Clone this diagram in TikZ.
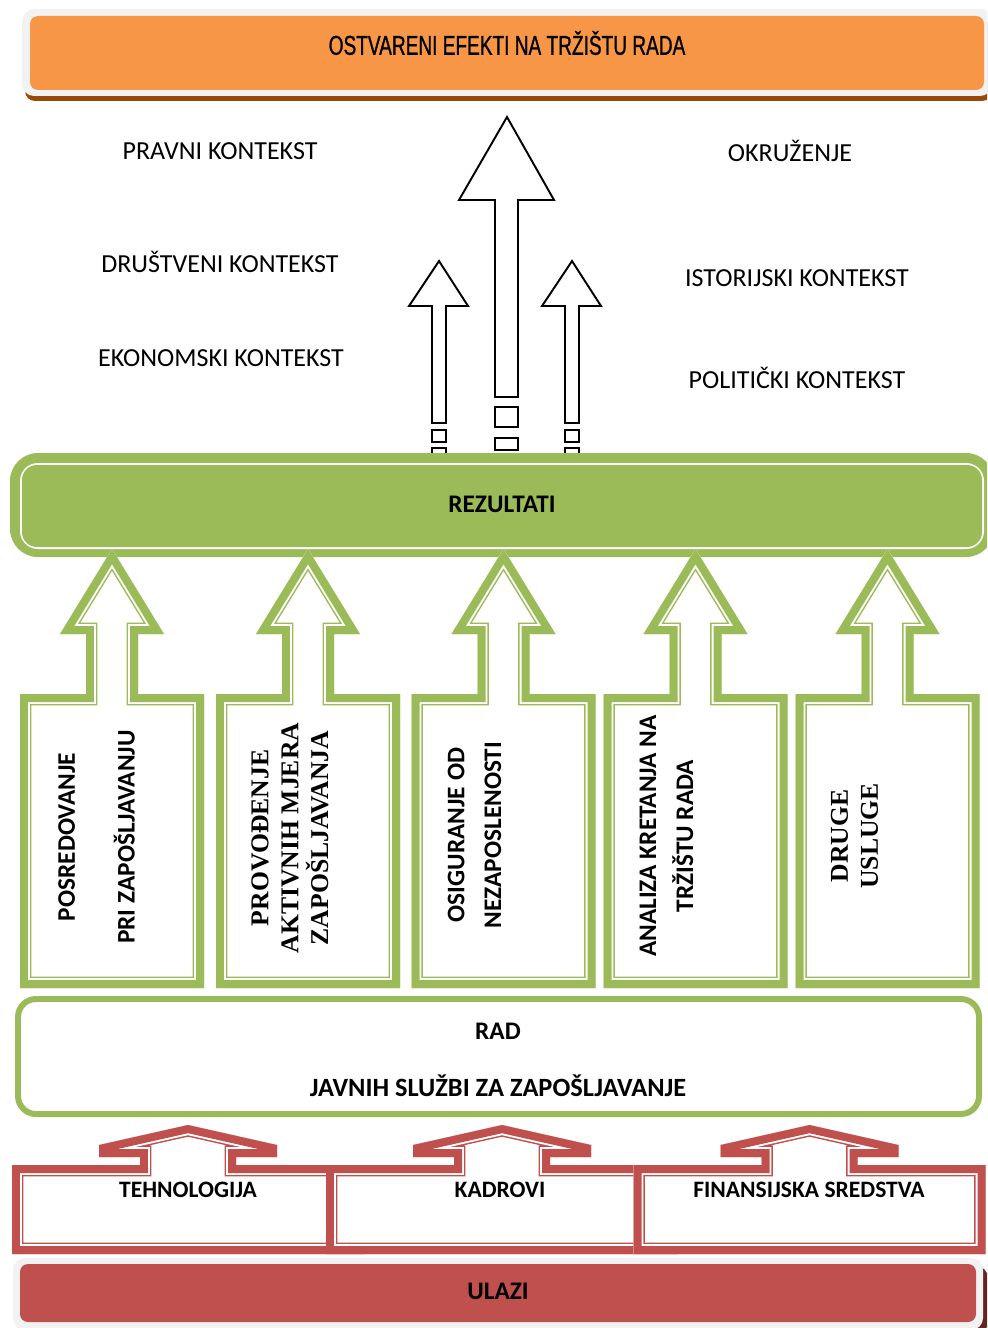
\documentclass[tikz,border=0pt]{standalone}
\usepackage{fontspec}
\setmainfont{Carlito}
\newfontfamily\timesfont{Liberation Serif}
\newfontfamily\narrowfont[FakeStretch=0.7, FakeBold=0.8]{Liberation Sans}
\usepackage{tikz}

\definecolor{orangeband}{HTML}{F79646}
\definecolor{orangeshadow}{HTML}{984807}
\definecolor{greenband}{HTML}{9BBB59}
\definecolor{redband}{HTML}{C0504D}
\definecolor{redshadow}{HTML}{632523}
\definecolor{greyrim}{HTML}{F2F2F2}

\tikzset{
  context/.style={font=\fontsize{14.8}{17}\selectfont},
  boldlabel/.style={font=\fontsize{14.4}{17}\selectfont\bfseries},
  seriflabel/.style={font=\fontsize{14.6}{17}\selectfont\timesfont\bfseries},
  blackarrow/.style={draw=black, fill=white, line width=1.1pt, line join=miter}
}

\begin{document}
\begin{tikzpicture}[x=0.02cm, y=-0.02cm]
				\path[use as bounding box, clip] (0,0) rectangle (987,1328);
				% top banner
				\fill[orangeshadow, rounded corners=0.2cm] (25,20) rectangle (992,101);
				\fill[greyrim, rounded corners=0.24cm] (22,9) rectangle (992,96);
				\fill[orangeband, rounded corners=0.16cm] (30,16) rectangle (984,90);
				\node[font=\fontsize{15.5}{18}\selectfont\narrowfont] (effects) at (507,43) {OSTVARENI EFEKTI NA TRŽIŠTU RADA};

				% context labels
				\node[context] (legal) at (220,151) {PRAVNI KONTEKST};
				\node[context] (social) at (220,262) {DRUŠTVENI KONTEKST};
				\node[context] (economic) at (221,358) {EKONOMSKI KONTEKST};
				\node[context] (environment) at (790,151) {OKRUŽENJE};
				\node[context] (historic) at (797,278) {ISTORIJSKI KONTEKST};
				\node[context] (political) at (797,378) {POLITIČKI KONTEKST};

				% outline arrows going up
				\draw[blackarrow] (507,117) -- (554,200) -- (518,200) -- (518,397) -- (495,397) -- (495,200) -- (459,200) -- cycle;
				\draw[blackarrow] (495,407) rectangle (518,427);
				\draw[blackarrow] (495,438) rectangle (518,450);
				\foreach \c in {439,572}{
					\draw[blackarrow] (\c,261) -- ({\c+29},306) -- ({\c+7},306) -- ({\c+7},423) -- ({\c-7},423) -- ({\c-7},306) -- ({\c-30},306) -- cycle;
					\draw[blackarrow] ({\c-7},430) rectangle ({\c+7},442);
					\draw[blackarrow] ({\c-7},448) rectangle ({\c+7},462);
				}

				% results bar
				\fill[greenband, rounded corners=0.56cm] (10,453) rectangle (994,557);
				\fill[white, rounded corners=0.36cm] (20,463) rectangle (984,549);
				\fill[greenband, rounded corners=0.3cm] (22,465) rectangle (982,547);
				\node[boldlabel] (results) at (502,504) {REZULTATI};

				% service arrows
				\foreach \c in {112,308,503.5,695.5,887.5}{
					\path[save path=\greenpath] (\c,549) -- ({\c+52},634) -- ({\c+26},634) -- ({\c+26},694) -- ({\c+92},694) -- ({\c+92},988) -- ({\c-92},988) -- ({\c-92},694) -- ({\c-26},694) -- ({\c-26},634) -- ({\c-52},634) -- cycle;
					\fill[white, use path=\greenpath];
					\begin{scope}
						\clip[use path=\greenpath];
						\draw[greenband, line width=13pt, line join=miter, use path=\greenpath];
						\draw[white, line width=11.3pt, line join=miter, use path=\greenpath];
						\draw[greenband, line width=9.1pt, line join=miter, use path=\greenpath];
					\end{scope}
				}
				\node[boldlabel, rotate=90, align=center] (placement) at (96.5,837) {POSREDOVANJE\\[17pt]PRI ZAPOŠLJAVANJU};
				\node[seriflabel, rotate=90, align=center] (measures) at (290,838) {PROVOĐENJE\\AKTIVNIH MJERA\\ZAPOŠLJAVANJA};
				\node[boldlabel, rotate=90, align=center] (insurance) at (474.5,835) {OSIGURANJE OD\\[4pt]NEZAPOSLENOSTI};
				\node[boldlabel, rotate=90, align=center] (analysis) at (666.5,836) {ANALIZA KRETANJA NA\\[4pt]TRŽIŠTU RADA};
				\node[seriflabel, rotate=90, align=center] (other) at (854.5,836) {DRUGE\\USLUGE};

				% public employment services
				\draw[greenband, line width=3.4pt, rounded corners=0.36cm] (18,999) rectangle (979,1114);
				\node[boldlabel] (work) at (498,1031) {RAD};
				\node[boldlabel, font=\fontsize{15}{17}\selectfont\bfseries] (services) at (498,1086) {JAVNIH SLUŽBI ZA ZAPOŠLJAVANJE};

				% resources
				\foreach \c in {188,502,809.5}{
					\path[save path=\redpath] (\c,1125) -- ({\c+89},1145) -- ({\c+89},1157) -- ({\c+48},1157) -- ({\c+48},1165) -- ({\c+176},1165) -- ({\c+176},1254) -- ({\c-176},1254) -- ({\c-176},1165) -- ({\c-48},1165) -- ({\c-48},1157) -- ({\c-89},1157) -- ({\c-89},1145) -- cycle;
					\fill[white, use path=\redpath];
					\begin{scope}
						\clip[use path=\redpath];
						\draw[redband, line width=13pt, line join=miter, use path=\redpath];
						\draw[white, line width=11.3pt, line join=miter, use path=\redpath];
						\draw[redband, line width=9.1pt, line join=miter, use path=\redpath];
					\end{scope}
				}
				\node[boldlabel, font=\fontsize{13.4}{16}\selectfont\bfseries] (technology) at (188,1190) {TEHNOLOGIJA};
				\node[boldlabel, font=\fontsize{13.4}{16}\selectfont\bfseries] (staff) at (500,1190) {KADROVI};
				\node[boldlabel, font=\fontsize{13.4}{16}\selectfont\bfseries] (funds) at (809,1190) {FINANSIJSKA SREDSTVA};

				% inputs bar
				\fill[redshadow, rounded corners=0.24cm] (17,1266) rectangle (988,1334);
				\fill[greyrim, rounded corners=0.24cm] (13,1258) rectangle (983,1330);
				\fill[redband, rounded corners=0.16cm] (20,1264) rectangle (976,1322);
				\node[boldlabel] (inputs) at (498,1291) {ULAZI};
			\end{tikzpicture}
\end{document}
